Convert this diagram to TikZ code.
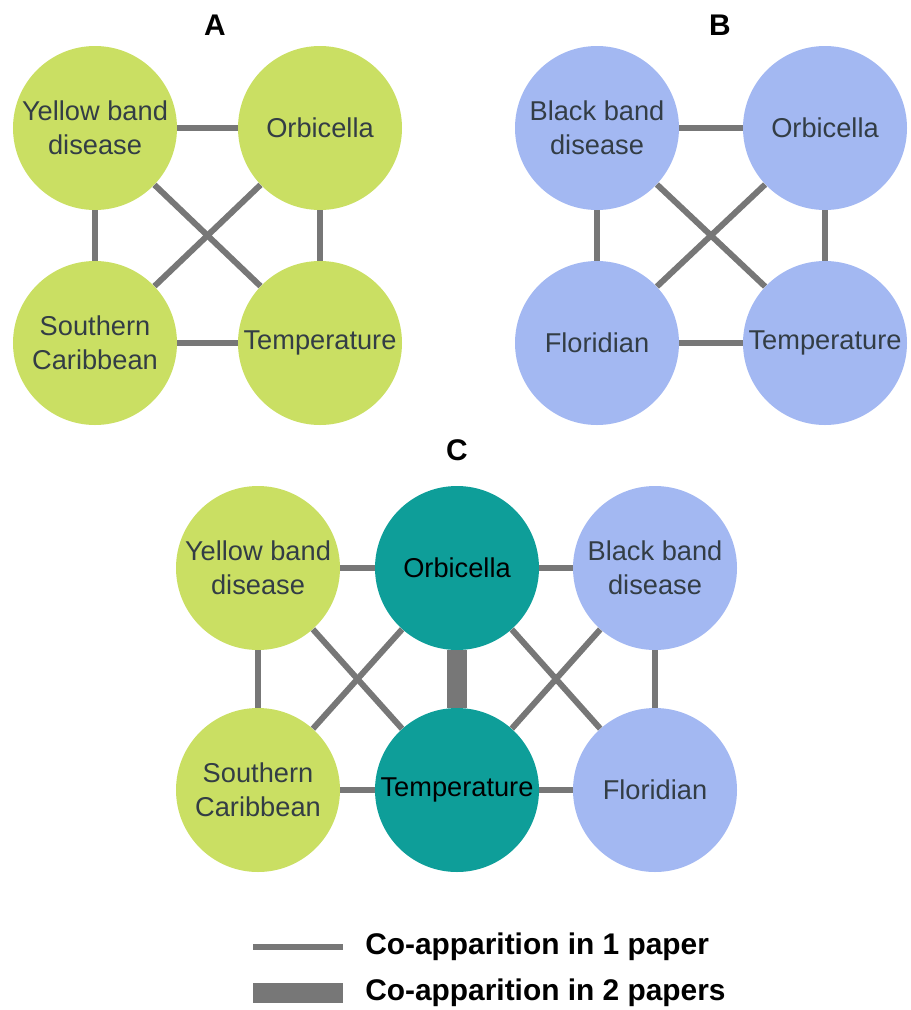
\documentclass[tikz,border=0pt]{standalone}
\usepackage{fontspec}
\setmainfont{Liberation Sans}
\definecolor{cgreen}{HTML}{CADF63}
\definecolor{cblue}{HTML}{A3B8F2}
\definecolor{cteal}{HTML}{0E9E99}
\definecolor{cline}{HTML}{777777}
\definecolor{ctext}{HTML}{333D45}
\tikzset{
  topic/.style={circle, minimum size=3.28cm, inner sep=0pt, align=center, text=ctext,
    font=\fontsize{15.5}{19.5}\selectfont},
  gnode/.style={topic, fill=cgreen},
  bnode/.style={topic, fill=cblue},
  tnode/.style={topic, fill=cteal, text=black},
  link/.style={draw=cline, line width=3.4pt},
  link2/.style={draw=cline, line width=11.8pt},
  paneltitle/.style={font=\fontsize{17}{20}\selectfont\bfseries},
  legendtext/.style={anchor=west, font=\fontsize{17}{20}\selectfont\bfseries, inner sep=0pt}
}
\begin{document}
\begin{tikzpicture}
\useasboundingbox (0,0) rectangle (18.22,-20.2);
% Panel A
\node[paneltitle] (tA) at (4.3,-0.5) {A};
\node[gnode] (aY) at (1.9,-2.56) {Yellow band\\disease};
\node[gnode] (aO) at (6.4,-2.56) {Orbicella};
\node[gnode] (aS) at (1.9,-6.86) {Southern\\Caribbean};
\node[gnode] (aT) at (6.4,-6.86) {Temperature};
\draw[link] (aY) -- (aO);
\draw[link] (aY) -- (aS);
\draw[link] (aO) -- (aT);
\draw[link] (aS) -- (aT);
\draw[link] (aY) -- (aT);
\draw[link] (aO) -- (aS);
% Panel B
\node[paneltitle] (tB) at (14.4,-0.5) {B};
\node[bnode] (bB) at (11.94,-2.56) {Black band\\disease};
\node[bnode] (bO) at (16.5,-2.56) {Orbicella};
\node[bnode] (bF) at (11.94,-6.86) {Floridian};
\node[bnode] (bT) at (16.5,-6.86) {Temperature};
\draw[link] (bB) -- (bO);
\draw[link] (bB) -- (bF);
\draw[link] (bO) -- (bT);
\draw[link] (bF) -- (bT);
\draw[link] (bB) -- (bT);
\draw[link] (bO) -- (bF);
% Panel C
\node[paneltitle] (tC) at (9.14,-9.0) {C};
\node[gnode] (cY) at (5.16,-11.36) {Yellow band\\disease};
\node[tnode] (cO) at (9.14,-11.36) {Orbicella};
\node[bnode] (cB) at (13.1,-11.36) {Black band\\disease};
\node[gnode] (cS) at (5.16,-15.8) {Southern\\Caribbean};
\node[tnode] (cT) at (9.14,-15.8) {Temperature};
\node[bnode] (cF) at (13.1,-15.8) {Floridian};
\draw[link] (cY) -- (cO);
\draw[link] (cO) -- (cB);
\draw[link] (cY) -- (cS);
\draw[link] (cB) -- (cF);
\draw[link] (cS) -- (cT);
\draw[link] (cT) -- (cF);
\draw[link] (cY) -- (cT);
\draw[link] (cO) -- (cS);
\draw[link] (cO) -- (cF);
\draw[link] (cB) -- (cT);
\draw[link2] (cO) -- (cT);
% Legend
\coordinate (l1a) at (5.06,-18.94);
\coordinate (l1b) at (6.86,-18.94);
\coordinate (l2a) at (5.06,-19.86);
\coordinate (l2b) at (6.86,-19.86);
\draw[link] (l1a) -- (l1b);
\draw[link2] (l2a) -- (l2b);
\node[legendtext] (t1) at (7.3,-18.94) {Co-apparition in 1 paper};
\node[legendtext] (t2) at (7.3,-19.86) {Co-apparition in 2 papers};
\end{tikzpicture}
\end{document}
